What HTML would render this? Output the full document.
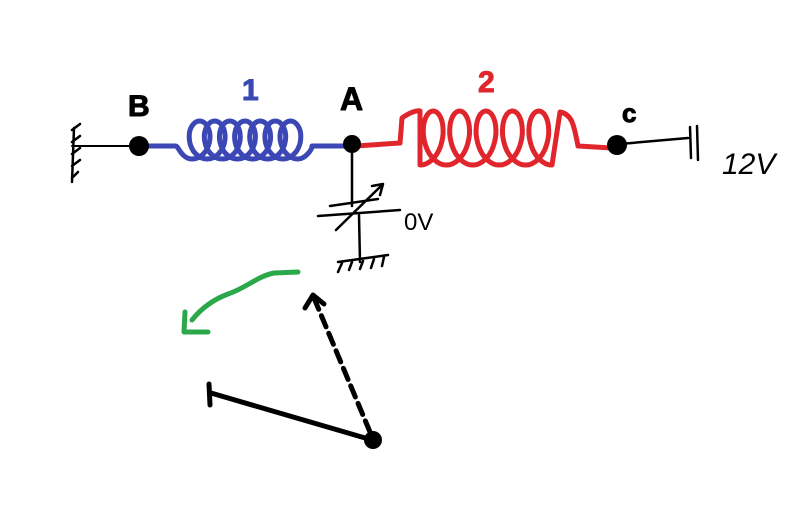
<!DOCTYPE html>
<html><head><meta charset="utf-8"><style>
html,body{margin:0;padding:0;background:#fff;width:800px;height:524px;overflow:hidden}
svg{display:block}
text{font-family:"Liberation Sans",sans-serif}
</style></head><body>
<svg id="s" width="800" height="524" viewBox="0 0 800 524" xmlns="http://www.w3.org/2000/svg" stroke-linecap="round" stroke-linejoin="round" fill="none">
<path d="M74 128 L72 182 M72 130 L80 124 M72 142 L80 136 M72 154 L80 148 M72 166 L80 160 M72 178 L78 172" stroke="#000" stroke-width="2.5"/>
<path d="M72 146 L136 146" stroke="#000" stroke-width="2"/>
<path id="blue" d="" stroke="#3a47b5" stroke-width="5"/>
<path id="red" d="" stroke="#e0262c" stroke-width="5"/>
<circle cx="139" cy="146" r="10" fill="#000"/>
<circle cx="352" cy="144" r="9" fill="#000"/>
<circle cx="617" cy="145" r="10" fill="#000"/>
<path d="M620 144 L688 138 M690 127 L691 158 M697 126 L698 160" stroke="#000" stroke-width="2.5"/>
<path d="M352 150 L352 206 M330 206 L378 199 M318 216 L400 210 M359 215 L360 262 M338 262 L388 255 M342 263 L338 272 M352 262 L349 270 M363 261 L360 269 M374 259 L371 268 M384 257 L382 266 M336 230 L383 184 M372 186 L383 184 L380 195" stroke="#000" stroke-width="2.5"/>
<path d="M298 272 L274 273 C258 276 246 288 228 294 C212 300 200 310 192 320 M185 312 L184 332 L208 332" stroke="#2aa84a" stroke-width="5"/>
<path d="M370 432 L314 298" stroke="#000" stroke-width="5" stroke-dasharray="12 7"/>
<path d="M305 308 L313 295 L324 304" stroke="#000" stroke-width="5"/>
<path d="M372 440 L211 393 M209 384 L210 405" stroke="#000" stroke-width="5"/>
<circle cx="373" cy="440" r="9" fill="#000"/>
<text x="128" y="116" font-size="30" font-weight="900" fill="#000" stroke="#000" stroke-width="1">B</text>
<text x="242" y="100" font-size="30" font-weight="bold" fill="#3a47b5" stroke="#3a47b5" stroke-width="1">1</text>
<text x="340" y="110" font-size="32" font-weight="bold" fill="#000" stroke="#000" stroke-width="1">A</text>
<text x="478" y="92" font-size="30" font-weight="bold" fill="#e0262c" stroke="#e0262c" stroke-width="1">2</text>
<text x="622" y="122" font-size="26" font-weight="bold" fill="#000" stroke="#000" stroke-width="1">c</text>
<text x="722" y="174" font-size="30" fill="#000" font-style="italic">12V</text>
<text x="404" y="230" font-size="24" fill="#000">0V</text>
</svg>
<script>
function coil(x0,x1,cy,ry,bx,n,start){
 var d=start, a=(x1-x0)/(2*Math.PI*n), N=n*40;
 for(var i=0;i<=N;i++){var t=i/N*2*Math.PI*n;
  var x=x0+a*t+bx*Math.sin(t), y=cy+ry*Math.cos(t);
  d+=" L"+x.toFixed(1)+" "+y.toFixed(1);}
 return d;
}
document.getElementById('blue').setAttribute('d',coil(192,298,140,19,14,7,"M142 146 L176 146 C178 146 182 159 192 159")+" C305 159 312 150 312 146 L346 146");
document.getElementById('red').setAttribute('d',coil(420,552,138,27,16,5,"M356 146 L400 143 L402 118 C410 112 418 110 420 111")+" L560 112 C572 114 574 125 578 146 L612 148");
</script>
</body></html>
